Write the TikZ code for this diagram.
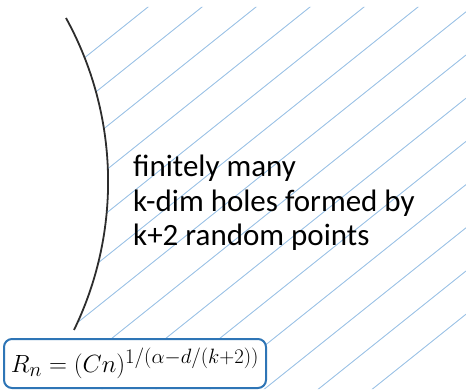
\documentclass[tikz,border=0pt]{standalone}
\usepackage{fontspec}
\setmainfont{Carlito}
\definecolor{boxblue}{RGB}{46,117,182}
\definecolor{hatchblue}{RGB}{157,195,230}
\definecolor{arcgray}{RGB}{45,45,45}
\begin{document}
\begin{tikzpicture}[x=1pt,y=1pt,
  hatch/.style={draw=hatchblue,line width=0.9pt},
  rim/.style={draw=arcgray,line width=1.8pt},
  ratebox/.style={draw=boxblue,fill=white,line width=2pt,rounded corners=8pt,
    minimum width=262pt,minimum height=49pt,inner sep=0pt,font=\fontsize{28}{34}\selectfont},
  claim/.style={align=left,inner sep=0pt,font=\fontsize{31}{34.5}\selectfont}]
\useasboundingbox (0,0) rectangle (466,389);
% Hatched region right of the boundary
\begin{scope}
  \clip (66,371) arc[start angle=28.85,end angle=-25.9,radius=339.3] -- (74,0) -- (466,0) -- (466,382) -- (66,382) -- cycle;
  \foreach \k in {0,...,13} {
    \draw[hatch] (0,{263.6-43.2*\k}) -- ++(466,372.8);
  }
\end{scope}
% Boundary arc
\draw[rim] (66,371) arc[start angle=28.85,end angle=-25.9,radius=339.3];
% Text
\node[claim,anchor=north west] (holes) at (133,234) {finitely many\\k-dim holes formed by\\k+2 random points};
\node[ratebox] (rate) at (135,25.5) {$R_n = (Cn)^{1/(\alpha-d/(k+2))}$};
\end{tikzpicture}
\end{document}
